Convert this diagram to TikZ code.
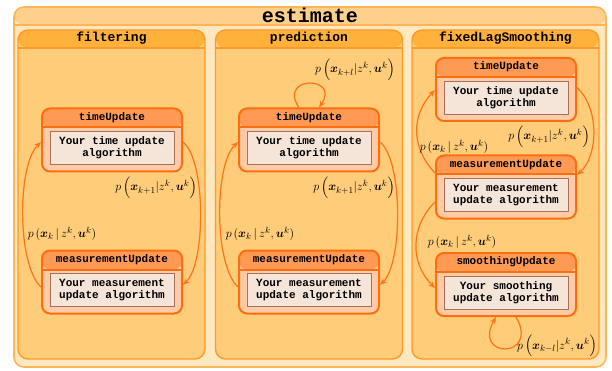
\documentclass[tikz,border=0pt]{standalone}
\usepackage{amsmath}
\usepackage{bm}
\usepackage{fontspec}
\setmonofont{Liberation Mono}
\usetikzlibrary{arrows.meta}

\definecolor{estBody}{HTML}{FFE8C0}
\definecolor{estHead}{HTML}{FFD08C}
\definecolor{estLine}{HTML}{FFB45A}
\definecolor{regBody}{HTML}{FFCC7A}
\definecolor{regHead}{HTML}{FFB13C}
\definecolor{regLine}{HTML}{FF9A28}
\definecolor{stBody}{HTML}{FFCBA6}
\definecolor{stHead}{HTML}{FF9A55}
\definecolor{stLine}{HTML}{FF6E0E}
\definecolor{algBody}{HTML}{F5E4D8}
\definecolor{algLine}{HTML}{A87056}
\definecolor{trLine}{HTML}{FF7415}

\tikzset{
	superstate/.style={draw=estLine, fill=estBody, line width=1.6pt, rounded corners=10pt,
		minimum width=592pt, minimum height=360pt, inner sep=0pt,
		label={[anchor=center, yshift=-9pt, font=\ttfamily\bfseries\fontsize{20}{22}\selectfont]north:#1},
		path picture={
			\fill[estHead] (path picture bounding box.north west) rectangle ([yshift=-18pt]path picture bounding box.north east);
			\draw[estLine, line width=1.6pt] ([yshift=-18pt]path picture bounding box.north west) -- ([yshift=-18pt]path picture bounding box.north east);}},
	region/.style={draw=regLine, fill=regBody, line width=1.4pt, rounded corners=10pt,
		minimum width=187pt, minimum height=329pt, inner sep=0pt,
		label={[anchor=center, yshift=-9pt, font=\ttfamily\bfseries\fontsize{13}{15}\selectfont]north:#1},
		path picture={
			\fill[regHead] (path picture bounding box.north west) rectangle ([yshift=-18pt]path picture bounding box.north east);
			\draw[regLine, line width=1.4pt] ([yshift=-18pt]path picture bounding box.north west) -- ([yshift=-18pt]path picture bounding box.north east);}},
	substate/.style={draw=stLine, fill=stBody, line width=2pt, rounded corners=8pt,
		minimum width=140pt, minimum height=63pt, inner sep=0pt,
		label={[anchor=center, yshift=-10pt, font=\ttfamily\bfseries\fontsize{11}{13}\selectfont]north:#1},
		path picture={
			\fill[stHead] (path picture bounding box.north west) rectangle ([yshift=-19pt]path picture bounding box.north east);
			\draw[stLine, line width=2pt] ([yshift=-19pt]path picture bounding box.north west) -- ([yshift=-19pt]path picture bounding box.north east);}},
	algo/.style={draw=algLine, fill=algBody, line width=0.9pt, minimum width=124pt, minimum height=33pt,
		inner sep=0pt, align=center, font=\ttfamily\bfseries\fontsize{11}{12}\selectfont},
	prob/.style={inner sep=1pt, font=\fontsize{13}{15}\selectfont},
	trans/.style={draw=trLine, line width=1.2pt, -{Stealth[length=7pt,width=5.5pt]}}
}

\begin{document}
\begin{tikzpicture}[x=1pt,y=1pt]
	\useasboundingbox (0,0) rectangle (612,-371);

	% outer state and its regions
	\node[superstate=estimate] (est) at (310,-187) {};
	\node[region=filtering] (filt) at (111.5,-194.5) {};
	\node[region=prediction] (pred) at (309,-194.5) {};
	\node[region=fixedLagSmoothing] (fls) at (505.5,-194.5) {};

	% filtering
	\node[substate=timeUpdate] (fTime) at (112,-140) {};
	\node[algo] (fTimeAlg) at ([yshift=-8pt]fTime.center) {Your time update\\algorithm};
	\node[substate=measurementUpdate] (fMeas) at (112,-282) {};
	\node[algo] (fMeasAlg) at ([yshift=-8pt]fMeas.center) {Your measurement\\update algorithm};

	% prediction
	\node[substate=timeUpdate] (pTime) at (309,-140) {};
	\node[algo] (pTimeAlg) at ([yshift=-8pt]pTime.center) {Your time update\\algorithm};
	\node[substate=measurementUpdate] (pMeas) at (309,-282) {};
	\node[algo] (pMeasAlg) at ([yshift=-8pt]pMeas.center) {Your measurement\\update algorithm};

	% fixed lag smoothing
	\node[substate=timeUpdate] (sTime) at (506,-89.5) {};
	\node[algo] (sTimeAlg) at ([yshift=-8pt]sTime.center) {Your time update\\algorithm};
	\node[substate=measurementUpdate] (sMeas) at (506,-187) {};
	\node[algo] (sMeasAlg) at ([yshift=-8pt]sMeas.center) {Your measurement\\update algorithm};
	\node[substate=smoothingUpdate] (sSmooth) at (506,-284.5) {};
	\node[algo] (sSmoothAlg) at ([yshift=-8pt]sSmooth.center) {Your smoothing\\update algorithm};

	% transitions
	\draw[trans] ([yshift=-2pt]fTime.east) .. controls +(23,-18) and +(23,22) .. ([yshift=-3pt]fMeas.east);
	\draw[trans] ([yshift=-5pt]fMeas.west) .. controls +(-24,22) and +(-24,-23) .. ([yshift=-2pt]fTime.west);

	\draw[trans] ([yshift=-2pt]pTime.east) .. controls +(23,-18) and +(23,22) .. ([yshift=-3pt]pMeas.east);
	\draw[trans] ([yshift=-5pt]pMeas.west) .. controls +(-24,22) and +(-24,-23) .. ([yshift=-2pt]pTime.west);
	\draw[trans] ([xshift=-10pt]pTime.north) .. controls +(-22,32) and +(22,32) .. ([xshift=10pt]pTime.north);

	\draw[trans] ([yshift=2pt]sTime.east) .. controls +(22,-20) and +(22,20) .. ([yshift=12pt]sMeas.east);
	\draw[trans] ([yshift=14pt]sMeas.west) .. controls +(-24,25) and +(-24,-25) .. ([yshift=-0.5pt]sTime.west);
	\draw[trans] ([yshift=-15pt]sMeas.west) .. controls +(-25,-25) and +(-25,25) .. ([yshift=-3.5pt]sSmooth.west);
	\draw[trans] ([xshift=10pt]sSmooth.south) .. controls +(24,-42) and +(-24,-42) .. ([xshift=-10pt]sSmooth.south);

	% transition labels
	\node[prob] (fPredLbl) at (156,-188) {$p\,\Bigl(\bm{x}_{k+1}|z^k,\bm{u}^k\Bigr)$};
	\node[prob] (fCorrLbl) at (62,-234) {$p\,(\bm{x}_k\,|\,z^k,\bm{u}^k)$};
	\node[prob] (pPredLbl) at (354,-188) {$p\,\Bigl(\bm{x}_{k+1}|z^k,\bm{u}^k\Bigr)$};
	\node[prob] (pCorrLbl) at (260,-234) {$p\,(\bm{x}_k\,|\,z^k,\bm{u}^k)$};
	\node[prob] (pLoopLbl) at (355,-70) {$p\,\Bigl(\bm{x}_{k+l}|z^k,\bm{u}^k\Bigr)$};
	\node[prob] (sPredLbl) at (549,-137) {$p\,\Bigl(\bm{x}_{k+1}|z^k,\bm{u}^k\Bigr)$};
	\node[prob] (sCorrLbl) at (454,-147) {$p\,(\bm{x}_k\,|\,z^k,\bm{u}^k)$};
	\node[prob] (sDownLbl) at (462,-242) {$p\,(\bm{x}_k\,|\,z^k,\bm{u}^k)$};
	\node[prob] (sLoopLbl) at (557,-346) {$p\,\Bigl(\bm{x}_{k-l}|z^k,\bm{u}^k\Bigr)$};
\end{tikzpicture}
\end{document}
